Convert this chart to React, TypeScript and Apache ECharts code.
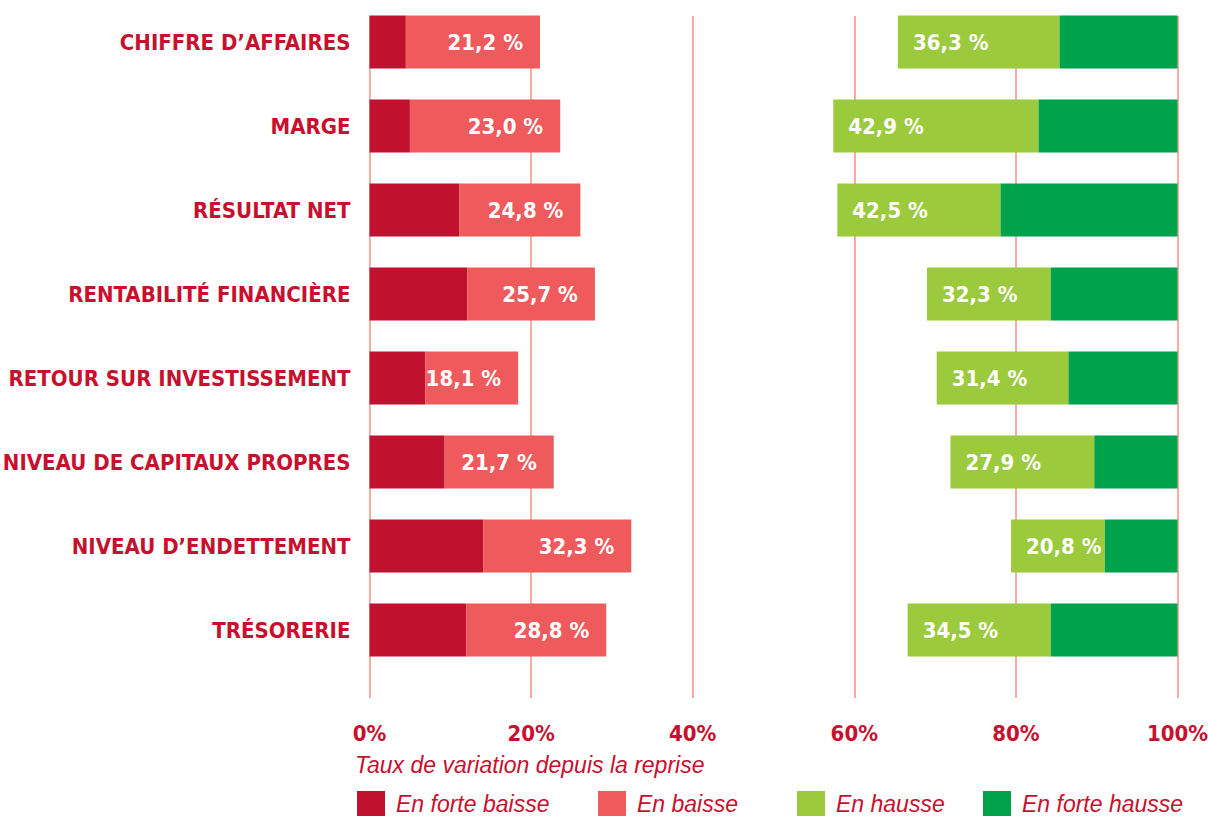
import React, { useEffect, useRef } from "react";
import * as echarts from "echarts";

const categories = [
  "CHIFFRE D’AFFAIRES",
  "MARGE",
  "RÉSULTAT NET",
  "RENTABILITÉ FINANCIÈRE",
  "RETOUR SUR INVESTISSEMENT",
  "NIVEAU DE CAPITAUX PROPRES",
  "NIVEAU D’ENDETTEMENT",
  "TRÉSORERIE",
];
const forteBaisse = [4.5, 5.0, 11.1, 12.1, 6.9, 9.3, 14.1, 12.0];
const baisse = [16.6, 18.6, 15.0, 15.8, 11.5, 13.5, 18.3, 17.3];
const hausse = [20.0, 25.4, 20.2, 15.3, 16.3, 17.8, 11.6, 17.7];
const forteHausse = [14.6, 17.2, 21.9, 15.7, 13.5, 10.3, 9.0, 15.7];
const baisseLabels = ["21,2 %", "23,0 %", "24,8 %", "25,7 %", "18,1 %", "21,7 %", "32,3 %", "28,8 %"];
const hausseLabels = ["36,3 %", "42,9 %", "42,5 %", "32,3 %", "31,4 %", "27,9 %", "20,8 %", "34,5 %"];
const xTicks = [0, 20, 40, 60, 80, 100];
const seriesNames = ["En forte baisse", "En baisse", "En hausse", "En forte hausse"];
const axisTitle = "Taux de variation depuis la reprise";

const RED_TEXT = "#c8102e";
const COND = "'Liberation Sans Narrow', 'DejaVu Sans Condensed', 'Roboto Condensed', sans-serif";
const ITAL = "'Liberation Sans', Arial, sans-serif";
const legendLefts = [357, 598, 797, 983];

export default function App() {
  const ref = useRef<HTMLDivElement>(null);
  useEffect(() => {
    document.body.style.margin = "0";
    const chart = echarts.init(ref.current!, null, { renderer: "svg" });
    const gap = categories.map(
      (_, i) => 100 - forteBaisse[i] - baisse[i] - hausse[i] - forteHausse[i]
    );
    const barW = 53;
    chart.setOption({
      animation: false,
      grid: [
        { left: 369.5, right: 30.5, top: 0, height: 672, outerBoundsMode: "none", containLabel: false },
        { left: 369.5, right: 30.5, top: 16, height: 682, outerBoundsMode: "none", containLabel: false },
      ],
      xAxis: [
        { gridIndex: 0, type: "value", min: 0, max: 100, show: false },
        {
          gridIndex: 1,
          type: "value",
          min: 0,
          max: 100,
          interval: 20,
          axisLine: { show: false },
          axisTick: { show: false },
          splitLine: { show: true, lineStyle: { color: "#f4ada2", width: 2 } },
          axisLabel: {
            margin: 24,
            formatter: (v: number) => `${v}%`,
            color: RED_TEXT,
            fontFamily: COND,
            fontWeight: "bold",
            fontSize: 22,
          },
          data: xTicks,
        },
      ],
      yAxis: [
        {
          gridIndex: 0,
          type: "category",
          inverse: true,
          data: categories,
          axisLine: { show: false },
          axisTick: { show: false },
          axisLabel: {
            margin: 19,
            color: RED_TEXT,
            fontFamily: COND,
            fontWeight: "bold",
            fontSize: 22,
          },
        },
        { gridIndex: 1, type: "value", show: false },
      ],
      legend: seriesNames.map((n, i) => ({
        data: [n],
        left: legendLefts[i],
        top: 791,
        padding: 0,
        itemWidth: 28,
        itemHeight: 25,
        icon: "rect",
        selectedMode: false,
        textStyle: {
          color: RED_TEXT,
          fontFamily: ITAL,
          fontStyle: "italic",
          fontSize: 23,
          padding: [0, 0, 0, 6],
        },
      })),
      graphic: [
        {
          type: "text",
          left: 355,
          top: 753,
          style: {
            text: axisTitle,
            fill: RED_TEXT,
            font: `italic 23px ${ITAL}`,
          },
        },
      ],
      series: [
        {
          name: seriesNames[0],
          type: "bar",
          stack: "s",
          barWidth: barW,
          data: forteBaisse,
          itemStyle: { color: "#c0112f" },
        },
        {
          name: seriesNames[1],
          type: "bar",
          stack: "s",
          barWidth: barW,
          data: baisse,
          itemStyle: { color: "#ef5a5d" },
          label: {
            show: true,
            position: "insideRight",
            distance: 17,
            formatter: (p: any) => baisseLabels[p.dataIndex],
            color: "#ffffff",
            fontFamily: COND,
            fontWeight: "bold",
            fontSize: 22,
          },
        },
        {
          name: "gap",
          type: "bar",
          stack: "s",
          barWidth: barW,
          data: gap,
          itemStyle: { color: "rgba(0,0,0,0)" },
          silent: true,
        },
        {
          name: seriesNames[2],
          type: "bar",
          stack: "s",
          barWidth: barW,
          data: hausse,
          itemStyle: { color: "#9bca3c" },
          label: {
            show: true,
            position: "insideLeft",
            distance: 15,
            formatter: (p: any) => hausseLabels[p.dataIndex],
            color: "#ffffff",
            fontFamily: COND,
            fontWeight: "bold",
            fontSize: 22,
          },
        },
        {
          name: seriesNames[3],
          type: "bar",
          stack: "s",
          barWidth: barW,
          data: forteHausse,
          itemStyle: { color: "#00a24b" },
        },
      ],
    });
    return () => chart.dispose();
  }, []);
  return <div ref={ref} style={{ width: 1208, height: 816 }} />;
}
